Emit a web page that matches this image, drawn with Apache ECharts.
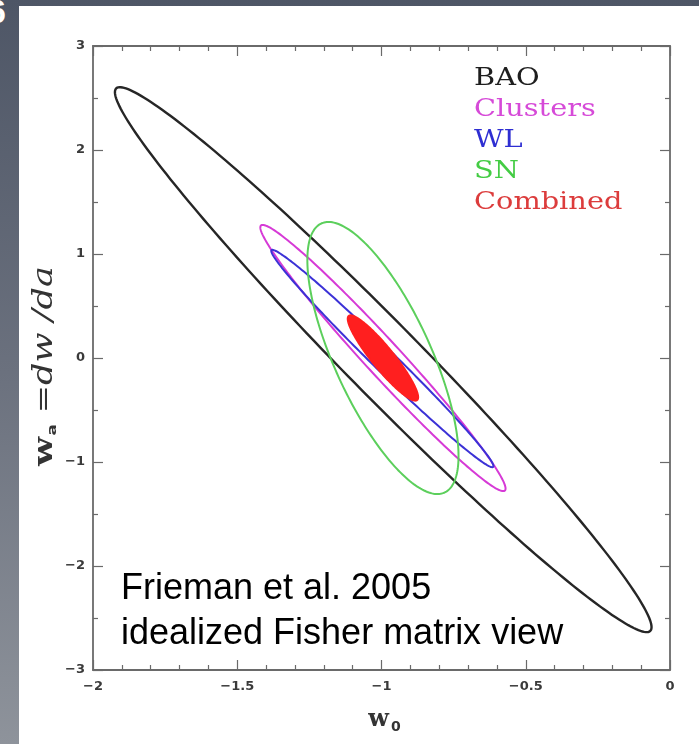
<!DOCTYPE html>
<html>
<head>
<meta charset="utf-8">
<script src="https://cdn.jsdelivr.net/npm/echarts@6/dist/echarts.min.js"></script>
<style>
  html, body { margin: 0; padding: 0; width: 699px; height: 744px; overflow: hidden; }
  body { background: linear-gradient(to bottom, #4e5666 0%, #6b717e 50%, #8e939b 100%); position: relative; }
  #panel { position: absolute; left: 19px; top: 6px; right: 0; bottom: 0; background: #ffffff; }
  #slideNum { position: absolute; left: -13px; top: -8px; color: #ffffff; font: bold 34px "Liberation Sans", sans-serif; }
  #chart { position: absolute; left: 0; top: 0; width: 699px; height: 744px; }
</style>
</head>
<body>
<div id="panel"></div>
<div id="slideNum">6</div>
<div id="chart"></div>
<script>
// ---- data ----
const contourNames = ['BAO', 'Clusters', 'WL', 'SN', 'Combined'];
const centerW0 = [-0.994, -0.995, -0.997, -0.995, -0.995];   // ellipse centre, w0
const centerWa = [-0.016, 0.0, -0.005, 0.0, 0.0];            // ellipse centre, wa
const sigmaW0 = [0.93, 0.425, 0.385, 0.262, 0.122];          // half extent along w0
const sigmaWa = [2.62, 1.28, 1.045, 1.308, 0.41];            // half extent along wa
const corrW0Wa = [-0.9816, -0.981, -0.990, -0.72, -0.92];    // correlation coefficient
const xTicks = [-2, -1.5, -1, -0.5, 0];
const yTicks = [-3, -2, -1, 0, 1, 2, 3];
const noteLines = ['Frieman et al. 2005', 'idealized Fisher matrix view'];

// ---- styles ----
const strokeColors = ['#262626', '#d63ad6', '#3c32d6', '#5ccf5c', '#f02a2a'];
const fillColors = [null, null, null, null, '#ff1f1f'];
const legendColors = ['#1e1e1e', '#d64ad8', '#2e2ed2', '#44cc44', '#dc3c3c'];

function fmt(v) { return String(v).replace('-', '\u2212'); }

function renderEllipse(idx) {
  return function (params, api) {
    const cx = api.value(0), cy = api.value(1), sx = api.value(2), sy = api.value(3), r = api.value(4);
    const q = Math.sqrt(1 - r * r);
    const pts = [];
    const n = 240;
    for (let i = 0; i < n; i++) {
      const t = 2 * Math.PI * i / n;
      pts.push(api.coord([cx + sx * Math.cos(t), cy + sy * (r * Math.cos(t) + q * Math.sin(t))]));
    }
    return {
      type: 'polygon',
      shape: { points: pts },
      style: {
        fill: fillColors[idx] || 'none',
        stroke: fillColors[idx] ? fillColors[idx] : strokeColors[idx],
        lineWidth: idx === 0 ? 2.4 : 2
      }
    };
  };
}

const series = contourNames.map((name, i) => ({
  name: name,
  type: 'custom',
  coordinateSystem: 'cartesian2d',
  xAxisIndex: 0,
  yAxisIndex: 0,
  renderItem: renderEllipse(i),
  encode: { x: 0, y: 1 },
  data: [[centerW0[i], centerWa[i], sigmaW0[i], sigmaWa[i], corrW0Wa[i]]],
  silent: true
}));

const axisLineStyle = { color: '#6a6a6a', width: 1.8 };
const tickStyle = { color: '#6a6a6a', width: 1.2 };
const labelStyle = { color: '#3a3a3a', fontFamily: 'DejaVu Sans', fontWeight: 'bold', fontSize: 13, formatter: fmt };

// legend drawn as text in a horizontally stretched group (the original font is wide)
const legendTexts = contourNames.map((n, i) => ({
  type: 'text', x: 0, y: i * 31,
  style: { text: n, fill: legendColors[i], font: '24px "DejaVu Serif"', verticalAlign: 'middle', align: 'left' }
}));

const chart = echarts.init(document.getElementById('chart'), null, { renderer: 'canvas' });
chart.setOption({
  backgroundColor: 'transparent',
  animation: false,
  grid: { left: 93, top: 46, width: 577, height: 624, containLabel: false },
  xAxis: [
    {
      type: 'value', position: 'bottom', min: xTicks[0], max: xTicks[xTicks.length - 1], interval: 0.5,
      axisLine: { show: true, onZero: false, lineStyle: axisLineStyle },
      axisTick: { show: true, inside: true, length: 10, lineStyle: tickStyle },
      minorTick: { show: true, splitNumber: 5, length: 5, lineStyle: tickStyle },
      splitLine: { show: false },
      axisLabel: Object.assign({ show: true, margin: 10 }, labelStyle),
      name: '{w|w}{s|0}', nameLocation: 'middle', nameGap: 36,
      nameTextStyle: {
        padding: [0, 0, 0, 6],
        rich: {
          w: { fontFamily: 'DejaVu Serif', fontWeight: 'bold', fontSize: 24, color: '#333' },
          s: { fontFamily: 'DejaVu Sans', fontWeight: 'bold', fontSize: 14, color: '#333', padding: [14, 0, 0, 2] }
        }
      }
    },
    {
      type: 'value', position: 'top', min: xTicks[0], max: xTicks[xTicks.length - 1], interval: 0.5,
      axisLine: { show: true, onZero: false, lineStyle: axisLineStyle },
      axisTick: { show: true, inside: true, length: 10, lineStyle: tickStyle },
      minorTick: { show: true, splitNumber: 5, length: 5, lineStyle: tickStyle },
      splitLine: { show: false },
      axisLabel: { show: false }
    }
  ],
  yAxis: [
    {
      type: 'value', position: 'left', min: yTicks[0], max: yTicks[yTicks.length - 1], interval: 1,
      axisLine: { show: true, onZero: false, lineStyle: axisLineStyle },
      axisTick: { show: true, inside: true, length: 10, lineStyle: tickStyle },
      minorTick: { show: true, splitNumber: 2, length: 5, lineStyle: tickStyle },
      splitLine: { show: false },
      axisLabel: Object.assign({ show: true, margin: 8 }, labelStyle)
    },
    {
      type: 'value', position: 'right', min: yTicks[0], max: yTicks[yTicks.length - 1], interval: 1,
      axisLine: { show: true, onZero: false, lineStyle: axisLineStyle },
      axisTick: { show: true, inside: true, length: 10, lineStyle: tickStyle },
      minorTick: { show: true, splitNumber: 2, length: 5, lineStyle: tickStyle },
      splitLine: { show: false },
      axisLabel: { show: false }
    }
  ],
  graphic: [
    {
      type: 'group', x: 474, y: 79, scaleX: 1.2, z: 100,
      children: legendTexts
    },
    {
      // y-axis title, rotated to read bottom-to-top, stretched like the original wide font
      type: 'group', x: 45, y: 366, rotation: Math.PI / 2, scaleX: 1.3, z: 100,
      children: [{
        type: 'text', x: 0, y: 0,
        style: {
          text: '{w|w}{s|a}{e| =}{i|dw /da}',
          align: 'center', verticalAlign: 'middle',
          rich: {
            w: { fontFamily: 'DejaVu Serif', fontWeight: 'bold', fontSize: 26, fill: '#333' },
            s: { fontFamily: 'DejaVu Sans', fontWeight: 'bold', fontSize: 13, fill: '#333', padding: [15, 0, 0, 1] },
            e: { fontFamily: 'DejaVu Serif', fontSize: 26, fill: '#333' },
            i: { fontFamily: 'DejaVu Serif', fontStyle: 'italic', fontSize: 27, fill: '#333' }
          }
        }
      }]
    },
    {
      type: 'text', x: 121, y: 567, z: 100,
      style: {
        text: noteLines.join('\n'),
        font: '36px "Liberation Sans", Arial, sans-serif',
        lineHeight: 45,
        fill: '#000000'
      }
    }
  ],
  series: series
});
</script>
</body>
</html>
